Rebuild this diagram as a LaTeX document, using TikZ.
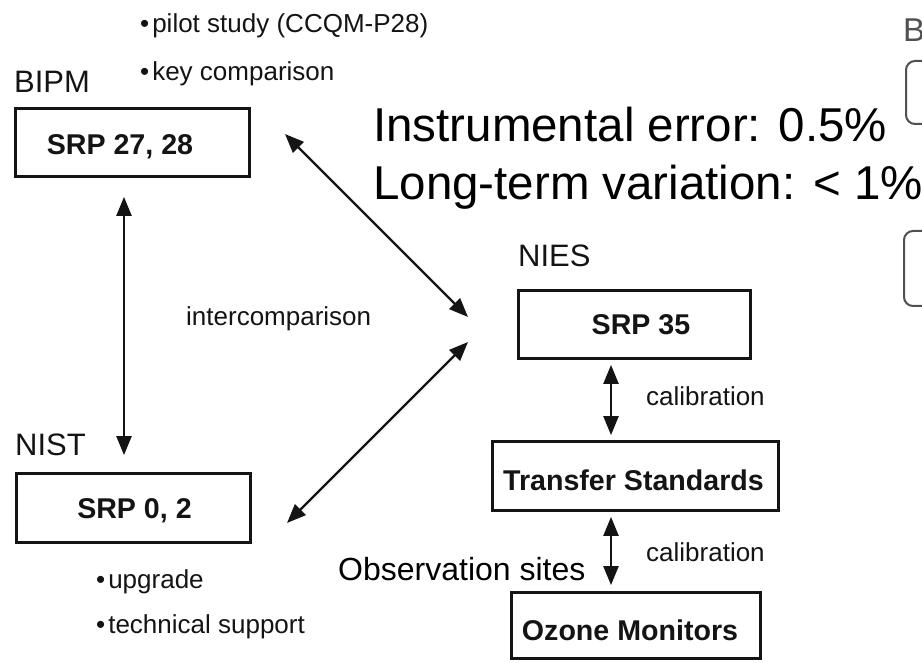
\documentclass[tikz,border=0pt]{standalone}
\usepackage{fontspec}
\setmainfont{Liberation Sans}
\usetikzlibrary{arrows.meta}
\definecolor{ink}{HTML}{141414}
\definecolor{faint}{HTML}{505050}
\begin{document}
\begin{tikzpicture}[x=1pt,y=-1pt,
  box/.style={draw=ink, line width=2.8pt, inner sep=0pt},
  boxtext/.style={font=\fontsize{28.6}{34}\selectfont\bfseries, text=ink, anchor=base, inner sep=0pt},
  org/.style={font=\fontsize{31}{37}\selectfont, text=ink, anchor=base west, inner sep=0pt},
  lab/.style={font=\fontsize{26}{31}\selectfont, text=ink, anchor=base west, inner sep=0pt},
  big/.style={font=\fontsize{47.5}{57}\selectfont, text=black, anchor=base west, inner sep=0pt},
  mid/.style={font=\fontsize{32}{38}\selectfont, text=black, anchor=base west, inner sep=0pt},
  dbl/.style={draw=ink, line width=2.4pt, {Triangle[length=19pt,width=15pt]}-{Triangle[length=19pt,width=15pt]}},
  part/.style={draw=faint, line width=2pt, rounded corners=9pt, inner sep=0pt},
]
\useasboundingbox (0,0) rectangle (922,663);

% boxes
\node[box, minimum width=234pt, minimum height=68pt] (bipm) at (132.5,142.5) {};
\node[box, minimum width=234pt, minimum height=69pt] (nist) at (133.5,508) {};
\node[box, minimum width=232pt, minimum height=68pt] (nies) at (634.5,324.5) {};
\node[box, minimum width=286pt, minimum height=69pt] (tr) at (635.5,476) {};
\node[box, minimum width=249pt, minimum height=66pt] (oz) at (636,625.5) {};

% box texts
\node[boxtext] (bipmt) at (120,155) {SRP 27, 28};
\node[boxtext] (nistt) at (134.5,518) {SRP 0, 2};
\node[boxtext] (niest) at (641,335) {SRP 35};
\node[boxtext] (trt) at (633.5,490) {Transfer Standards};
\node[boxtext] (ozt) at (630,640) {Ozone Monitors};

% organisation labels
\node[org] (lbipm) at (14,93) {BIPM};
\node[org] (lnist) at (15,455) {NIST};
\node[org] (lnies) at (518,267) {NIES};

% small labels
\node[lab] (p1) at (140,33) {\textbullet\kern3pt pilot study (CCQM-P28)};
\node[lab] (p2) at (140,81) {\textbullet\kern3pt key comparison};
\node[lab] (u1) at (96,588) {\textbullet\kern3pt upgrade};
\node[lab] (u2) at (96,633) {\textbullet\kern3pt technical support};
\node[lab] (ic) at (186,326) {intercomparison};
\node[lab] (c1) at (646,406) {calibration};
\node[lab] (c2) at (646,561) {calibration};

% overlay texts
\node[big] (ie) at (373,142) {Instrumental error: 0.5\%};
\node[big] (lt) at (373,200) {Long-term variation: < 1\%};
\node[mid] (obs) at (338,580) {Observation sites};

% connectors
\coordinate (cx) at (611,0);
\coordinate (vx) at (124,0);
\draw[dbl, shorten <=5pt, shorten >=5pt] (nies.south -| cx) -- (tr.north -| cx);
\draw[dbl, shorten <=5pt, shorten >=6pt] (tr.south -| cx) -- (oz.north -| cx);
\draw[dbl, shorten <=19pt, shorten >=17pt] (bipm.south -| vx) -- (nist.north -| vx);
\coordinate (d1a) at (285,134);
\coordinate (d1b) at (468,317);
\coordinate (d2a) at (287,523);
\coordinate (d2b) at (468,342);
\draw[dbl] (d1a) -- (d1b);
\draw[dbl] (d2a) -- (d2b);

% fragments of the neighbouring figure at the right edge
\begin{scope}
\clip (0,0) rectangle (922,663);
\node[font=\fontsize{33}{40}\selectfont, text=faint, anchor=base west, inner sep=0pt] (pb) at (903,42) {B};
\node[part, minimum width=100pt, minimum height=63pt, anchor=north west] (r1) at (905,60) {};
\node[part, minimum width=100pt, minimum height=75pt, anchor=north west] (r2) at (903,230) {};
\end{scope}
\end{tikzpicture}
\end{document}
